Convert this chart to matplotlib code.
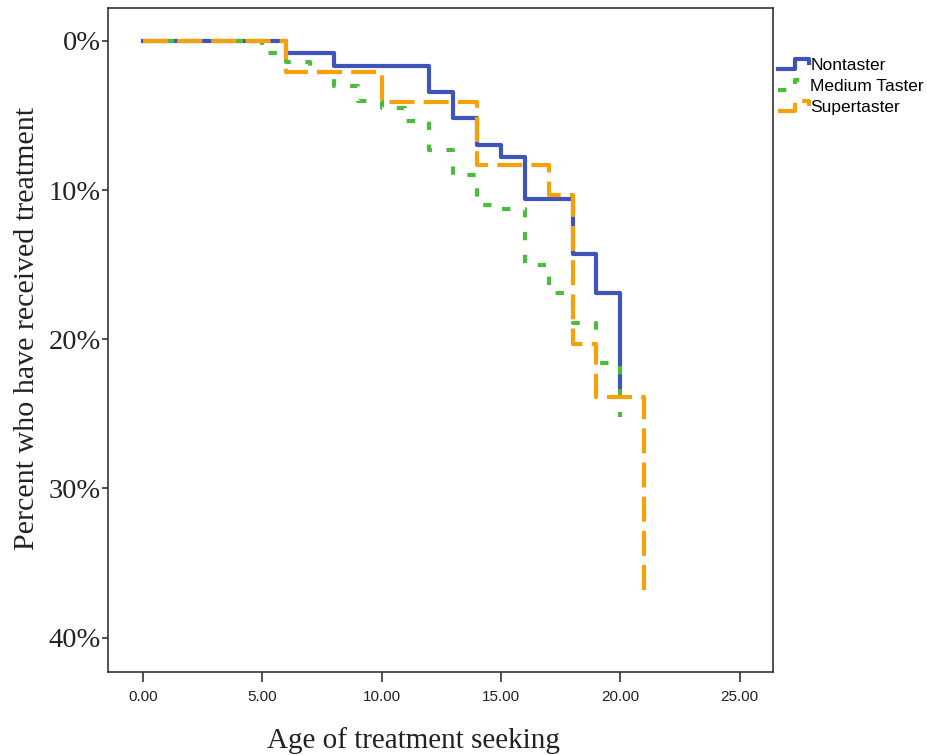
import matplotlib
matplotlib.use("Agg")
import matplotlib.pyplot as plt
from matplotlib.legend_handler import HandlerLine2D
from matplotlib.lines import Line2D

# Data (age, cumulative % who have received treatment)
non_x = [0, 6, 8, 12, 13, 14, 15, 16, 18, 19, 20]
non_y = [0, 0.8, 1.7, 3.4, 5.2, 7.0, 7.8, 10.6, 14.3, 16.9, 23.2]

med_x = [0, 5, 6, 7, 8, 9, 10, 11, 12, 13, 14, 15, 16, 17, 18, 19, 20]
med_y = [0, 0.8, 1.4, 2.1, 3.0, 4.0, 4.5, 5.4, 7.3, 9.0, 11.0, 11.3, 15.0, 16.9, 18.9, 21.6, 25.2]

sup_x = [0, 6, 10, 14, 17, 18, 19, 21]
sup_y = [0, 2.1, 4.1, 8.3, 10.3, 20.3, 23.9, 37.1]

labels = ["Nontaster", "Medium Taster", "Supertaster"]
colors = ["#3F54B8", "#4DBB3E", "#F5A10A"]
xticks = [0, 5, 10, 15, 20, 25]
yticks = [0, 10, 20, 30, 40]


class StepHandler(HandlerLine2D):
    def create_artists(self, legend, orig_handle, xdescent, ydescent,
                       width, height, fontsize, trans):
        x0 = -xdescent
        y0 = -ydescent
        xs = [x0, x0 + 0.55 * width, x0 + 0.55 * width, x0 + width, x0 + width]
        ys = [y0 + 0.15 * height, y0 + 0.15 * height, y0 + 0.85 * height,
              y0 + 0.85 * height, y0 + 0.55 * height]
        line = Line2D(xs, ys)
        self.update_prop(line, orig_handle, legend)
        line.set_transform(trans)
        return [line]


fig = plt.figure(figsize=(9.28, 7.55), dpi=100)
ax = fig.add_axes([0.1164, 0.110, 0.833 - 0.1164, 0.9894 - 0.110])

ax.step(non_x, non_y, where="post", color=colors[0], lw=3.0, label=labels[0], zorder=3)
ax.step(med_x, med_y, where="post", color=colors[1], lw=3.0, linestyle=(0, (2, 3.5)), label=labels[1], zorder=4)
ax.step(sup_x, sup_y, where="post", color=colors[2], lw=3.0, linestyle=(0, (6, 2.2)), label=labels[2], zorder=5)

ax.set_xlim(-1.46, 26.4)
ax.set_ylim(42.3, -2.2)

ax.set_xticks(xticks)
ax.set_xticklabels([f"{v:.2f}" for v in xticks], fontfamily="Liberation Sans", fontsize=11, color="#222222")
ax.set_yticks(yticks)
ax.set_yticklabels([f"{v}%" for v in yticks], fontfamily="Liberation Serif", fontsize=20.5, color="#222222")
ax.tick_params(axis="x", direction="out", length=7, width=1.2, color="#333333", pad=6)
ax.tick_params(axis="y", direction="out", length=4, width=1.2, color="#333333", pad=1)

for s in ax.spines.values():
    s.set_color("#333333")
    s.set_linewidth(1.2)

ax.set_xlabel("Age of treatment seeking", fontfamily="Liberation Serif", fontsize=21, color="#222222",
              labelpad=16.5, x=0.459)
ax.set_ylabel("Percent who have received treatment", fontfamily="Liberation Serif", fontsize=21.6,
              color="#222222", labelpad=6, y=0.518)

leg = ax.legend(loc="upper left", bbox_to_anchor=(1.0, 0.935), frameon=False,
                prop={"family": "Liberation Sans", "size": 12.5},
                handlelength=1.75, handleheight=0.9, handletextpad=0.1, labelspacing=0.3,
                borderaxespad=0.1, borderpad=0.2,
                handler_map={Line2D: StepHandler()})

fig.savefig("out.png", dpi=100)
